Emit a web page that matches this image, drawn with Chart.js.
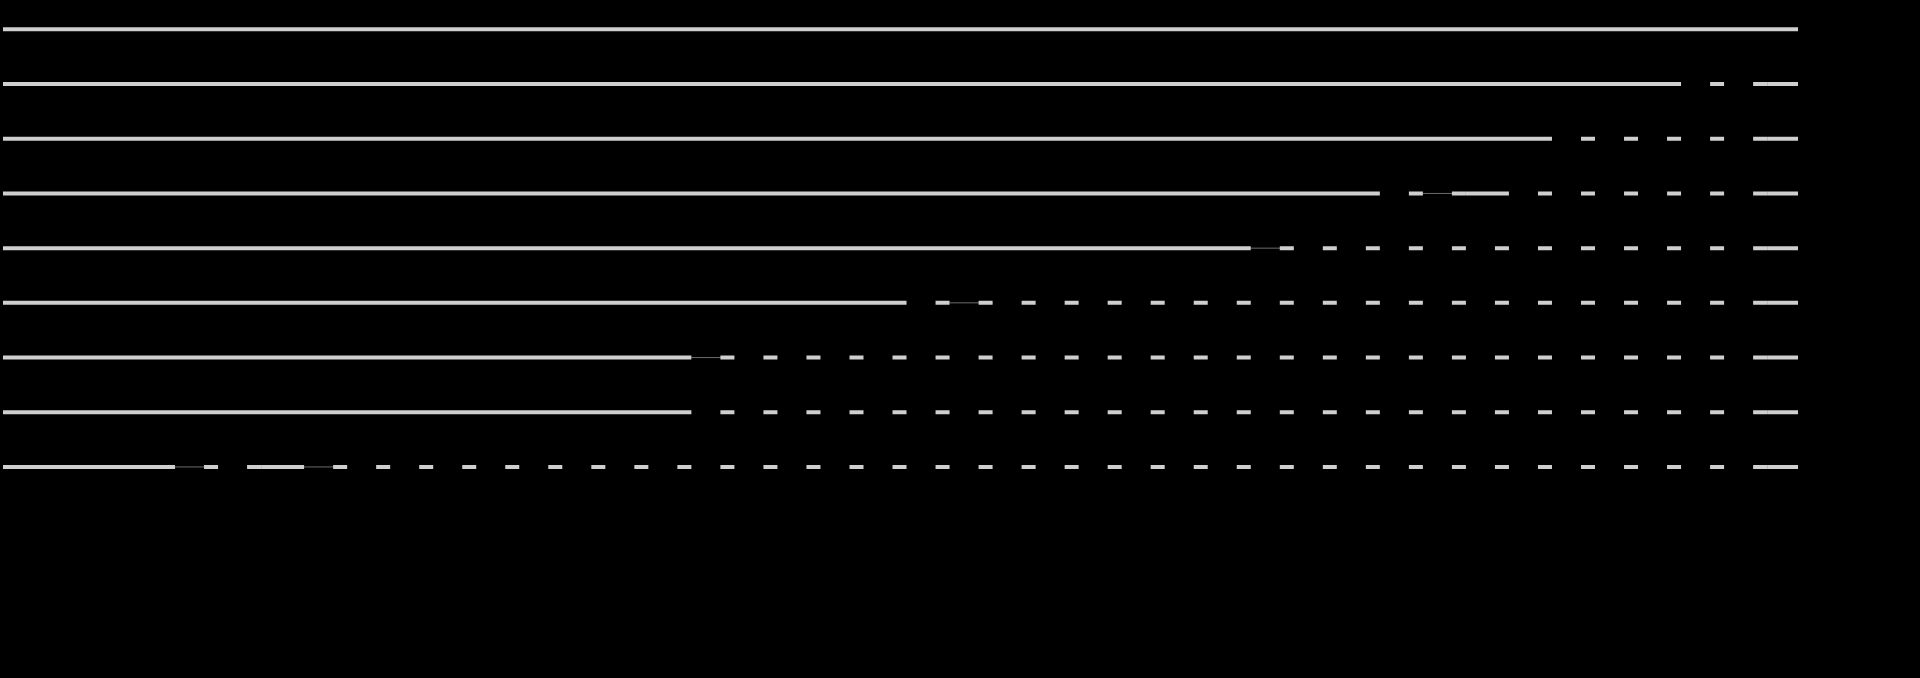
<!DOCTYPE html>
<html>
<head>
<meta charset="utf-8">
<style>
  html, body { margin: 0; padding: 0; background: #000; overflow: hidden; }
  #wrap { width: 1920px; height: 678px; position: relative; }
</style>
<script src="https://cdn.jsdelivr.net/npm/chart.js@4/dist/chart.umd.min.js"></script>
</head>
<body>
<div id="wrap"><canvas id="chart"></canvas></div>
<script>
// ── Data ──
// x stops (cell boundaries); the last cell is cut short at the right edge
const stops = [
  0, 1, 2, 3, 4, 5, 6, 7, 8, 9,
  10, 11, 12, 13, 14, 15, 16, 17, 18, 19,
  20, 21, 22, 23, 24, 25, 26, 27, 28, 29,
  30, 31, 32, 33, 34, 35, 36, 37, 38, 39,
  40, 41, 41.72,
];

// One state per cell: F = solid, D = dashed, T = dashed over a thin trace
const row1 = "FFFFFFFFFF FFFFFFFFFF FFFFFFFFFF FFFFFFFFFF FF";
const row2 = "FFFFFFFFFF FFFFFFFFFF FFFFFFFFFF FFFFFFFFFD DF";
const row3 = "FFFFFFFFFF FFFFFFFFFF FFFFFFFFFF FFFFFFDDDD DF";
const row4 = "FFFFFFFFFF FFFFFFFFFF FFFFFFFFFF FFDTFDDDDD DF";
const row5 = "FFFFFFFFFF FFFFFFFFFF FFFFFFFFFT DDDDDDDDDD DF";
const row6 = "FFFFFFFFFF FFFFFFFFFF FDTDDDDDDD DDDDDDDDDD DF";
const row7 = "FFFFFFFFFF FFFFFFTDDD DDDDDDDDDD DDDDDDDDDD DF";
const row8 = "FFFFFFFFFF FFFFFFDDDD DDDDDDDDDD DDDDDDDDDD DF";
const row9 = "FFFFTDFTDD DDDDDDDDDD DDDDDDDDDD DDDDDDDDDD DF";

const rows = [row1, row2, row3, row4, row5, row6, row7, row8, row9];

// ── Styles ──
const LINE = "#cfcfcf";
const TRACE = "#6c6c6c";
const DASH_ON = 14;

const datasets = [];

rows.forEach((raw, r) => {
  const cells = raw.replace(/ /g, "").split("");
  const points = stops.map((x) => ({ x, y: r }));

  // thick line: solid cells, or one dash sitting at the end of the cell
  datasets.push({
    data: points,
    borderColor: LINE,
    borderWidth: 4,
    pointRadius: 0,
    order: 0,
    segment: {
      borderDash: (ctx) => {
        if (cells[ctx.p0DataIndex] === "F") return [];
        const w = ctx.p1.x - ctx.p0.x;
        return [DASH_ON, w - DASH_ON];
      },
      borderDashOffset: (ctx) => (cells[ctx.p0DataIndex] === "F" ? 0 : DASH_ON),
    },
  });

  // thin trace under the "T" cells
  if (cells.includes("T")) {
    datasets.push({
      data: points,
      borderColor: TRACE,
      borderWidth: 1,
      pointRadius: 0,
      order: 1,
      segment: {
        borderColor: (ctx) => (cells[ctx.p0DataIndex] === "T" ? TRACE : "transparent"),
      },
    });
  }
});

// ── Chart ──
new Chart(document.getElementById("chart"), {
  type: "line",
  data: { datasets },
  options: {
    responsive: true,
    maintainAspectRatio: false,
    animation: false,
    layout: { padding: { left: 2.9, right: 121.9, top: 2, bottom: 183.7 } },
    scales: {
      x: { type: "linear", display: false, min: stops[0], max: stops[stops.length - 1] },
      y: { type: "linear", display: false, reverse: true, min: -0.5, max: rows.length - 0.5 },
    },
    plugins: {
      legend: { display: false },
      tooltip: { enabled: false },
    },
  },
});
</script>
</body>
</html>
